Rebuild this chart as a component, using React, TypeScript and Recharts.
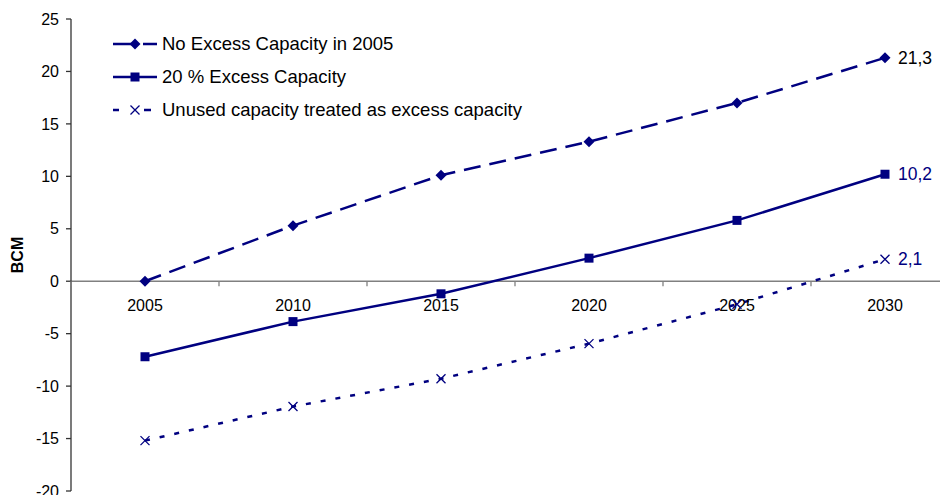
import React from 'react';
import {
  LineChart,
  Line,
  XAxis,
  YAxis,
  ReferenceLine,
  ReferenceDot,
  LabelList,
  Legend,
} from 'recharts';

const years = ['2005', '2010', '2015', '2020', '2025', '2030'];
const noExcess = [0, 5.3, 10.1, 13.3, 17.0, 21.3];
const excess20 = [-7.2, -3.85, -1.2, 2.2, 5.8, 10.2];
const unusedCap = [-15.2, -11.95, -9.3, -5.95, -2.2, 2.1];
const yTicks = [-20, -15, -10, -5, 0, 5, 10, 15, 20, 25];
const seriesNames = [
  'No Excess Capacity in 2005',
  '20 % Excess Capacity',
  'Unused capacity treated as excess capacity',
];
const labelTexts = ['21,3', '10,2', '2,1'];

const NAVY = '#000080';
const FONT = '"Liberation Sans", Arial, sans-serif';
const CHART_W = 960;
const CHART_H = 500;
const MARGIN = { top: 11, right: 9, left: 3, bottom: 17 };
const Y_AXIS_W = 60;
const PLOT_W = CHART_W - MARGIN.left - MARGIN.right - Y_AXIS_W;
const BAND = PLOT_W / years.length;

const data = years.map((y, i) => ({
  year: y,
  s1: noExcess[i],
  s2: excess20[i],
  s3: unusedCap[i],
}));

type MarkerKind = 'diamond' | 'square' | 'cross';

function Marker({ kind, cx, cy }: { kind: MarkerKind; cx: number; cy: number }) {
  if (kind === 'diamond') {
    const r = 5.5;
    return (
      <path
        d={`M${cx},${cy - r}L${cx + r},${cy}L${cx},${cy + r}L${cx - r},${cy}Z`}
        fill={NAVY}
        stroke="none"
      />
    );
  }
  if (kind === 'square') {
    const r = 4.5;
    return <rect x={cx - r} y={cy - r} width={2 * r} height={2 * r} fill={NAVY} />;
  }
  const r = 4.5;
  return (
    <path
      d={`M${cx - r},${cy - r}L${cx + r},${cy + r}M${cx - r},${cy + r}L${cx + r},${cy - r}`}
      stroke={NAVY}
      strokeWidth={1.3}
      fill="none"
    />
  );
}

const seriesDefs = [
  { key: 's1', kind: 'diamond' as MarkerKind, dash: '17 9', legendDash: '25 5 14 5', labelColor: '#000000' },
  { key: 's2', kind: 'square' as MarkerKind, dash: undefined, legendDash: undefined, labelColor: NAVY },
  { key: 's3', kind: 'cross' as MarkerKind, dash: '5 10', legendDash: '6 25 7 20', labelColor: NAVY },
];

const makeDot = (kind: MarkerKind) => (props: any) => {
  const { cx, cy, index } = props;
  if (cx == null || cy == null) return <g key={`n-${index}`} />;
  return (
    <g key={`${kind}-${index}`}>
      <Marker kind={kind} cx={cx} cy={cy} />
    </g>
  );
};

const makeEndLabel = (text: string, color: string) => (props: any) => {
  const { x, y, index } = props;
  if (index !== years.length - 1) return null;
  return (
    <text
      x={x + 13}
      y={y}
      dominantBaseline="central"
      fill={color}
      fontSize={17.5}
      fontFamily={FONT}
    >
      {text}
    </text>
  );
};

const renderLegend = () => (
  <div style={{ fontFamily: FONT }}>
    {seriesDefs.map((s, i) => (
      <div
        key={s.key}
        style={{ display: 'flex', alignItems: 'center', height: 33, whiteSpace: 'nowrap' }}
      >
        <svg width={46} height={14} style={{ display: 'block' }}>
          <line
            x1={0}
            y1={7}
            x2={44}
            y2={7}
            stroke={NAVY}
            strokeWidth={2.5}
            strokeDasharray={s.legendDash}
          />
          <Marker kind={s.kind} cx={22} cy={7} />
        </svg>
        <span style={{ fontSize: 18.5, color: '#000', marginLeft: 3 }}>{seriesNames[i]}</span>
      </div>
    ))}
  </div>
);

const BcmLabel = (props: any) => {
  const vb = props.viewBox || {};
  const cx = (vb.x ?? 0) + 6.5;
  const cy = (vb.y ?? 0) + (vb.height ?? 0) / 2;
  return (
    <text
      x={cx}
      y={cy}
      transform={`rotate(-90 ${cx} ${cy})`}
      textAnchor="middle"
      dominantBaseline="central"
      fontWeight="bold"
      fontSize={16}
      fontFamily={FONT}
      fill="#000"
    >
      BCM
    </text>
  );
};

const CategoryMark = (props: any) => {
  const { cx, cy, label } = props;
  return (
    <g>
      <line x1={cx - BAND / 2} y1={cy} x2={cx - BAND / 2} y2={cy + 5} stroke="#808080" strokeWidth={1.3} />
      <text
        x={cx}
        y={cy + 30}
        textAnchor="middle"
        fontSize={16}
        fontFamily={FONT}
        fill="#000"
      >
        {label}
      </text>
    </g>
  );
};

export default function App() {
  return (
    <div style={{ width: 940, height: 487, overflow: 'hidden', position: 'relative' }}>
      <LineChart width={CHART_W} height={CHART_H} data={data} margin={MARGIN}>
        <XAxis dataKey="year" hide padding={{ left: BAND / 2, right: BAND / 2 }} />
        <YAxis
          width={Y_AXIS_W}
          domain={[-20, 25]}
          ticks={yTicks}
          interval={0}
          tickSize={5}
          tickMargin={7}
          axisLine={{ stroke: '#333', strokeWidth: 1.3 }}
          tickLine={{ stroke: '#333', strokeWidth: 1.3 }}
          tick={{ fill: '#000', fontSize: 16, fontFamily: FONT }}
          label={<BcmLabel />}
          allowDataOverflow
        />
        <ReferenceLine y={0} stroke="#808080" strokeWidth={1.5} />
        {years.map((y) => (
          <ReferenceDot
            key={`cat-${y}`}
            x={y}
            y={0}
            r={0}
            shape={(p: any) => <CategoryMark {...p} label={y} />}
          />
        ))}
        <Legend
          layout="horizontal"
          verticalAlign="middle"
          align="center"
          content={renderLegend}
          wrapperStyle={{ top: 19, left: 105, width: 'auto' }}
        />
        {seriesDefs.map((s, i) => (
          <Line
            key={s.key}
            dataKey={s.key}
            name={seriesNames[i]}
            stroke={NAVY}
            strokeWidth={2.5}
            strokeDasharray={s.dash}
            dot={makeDot(s.kind)}
            activeDot={false}
            isAnimationActive={false}
          >
            <LabelList dataKey={s.key} content={makeEndLabel(labelTexts[i], s.labelColor)} />
          </Line>
        ))}
      </LineChart>
    </div>
  );
}
